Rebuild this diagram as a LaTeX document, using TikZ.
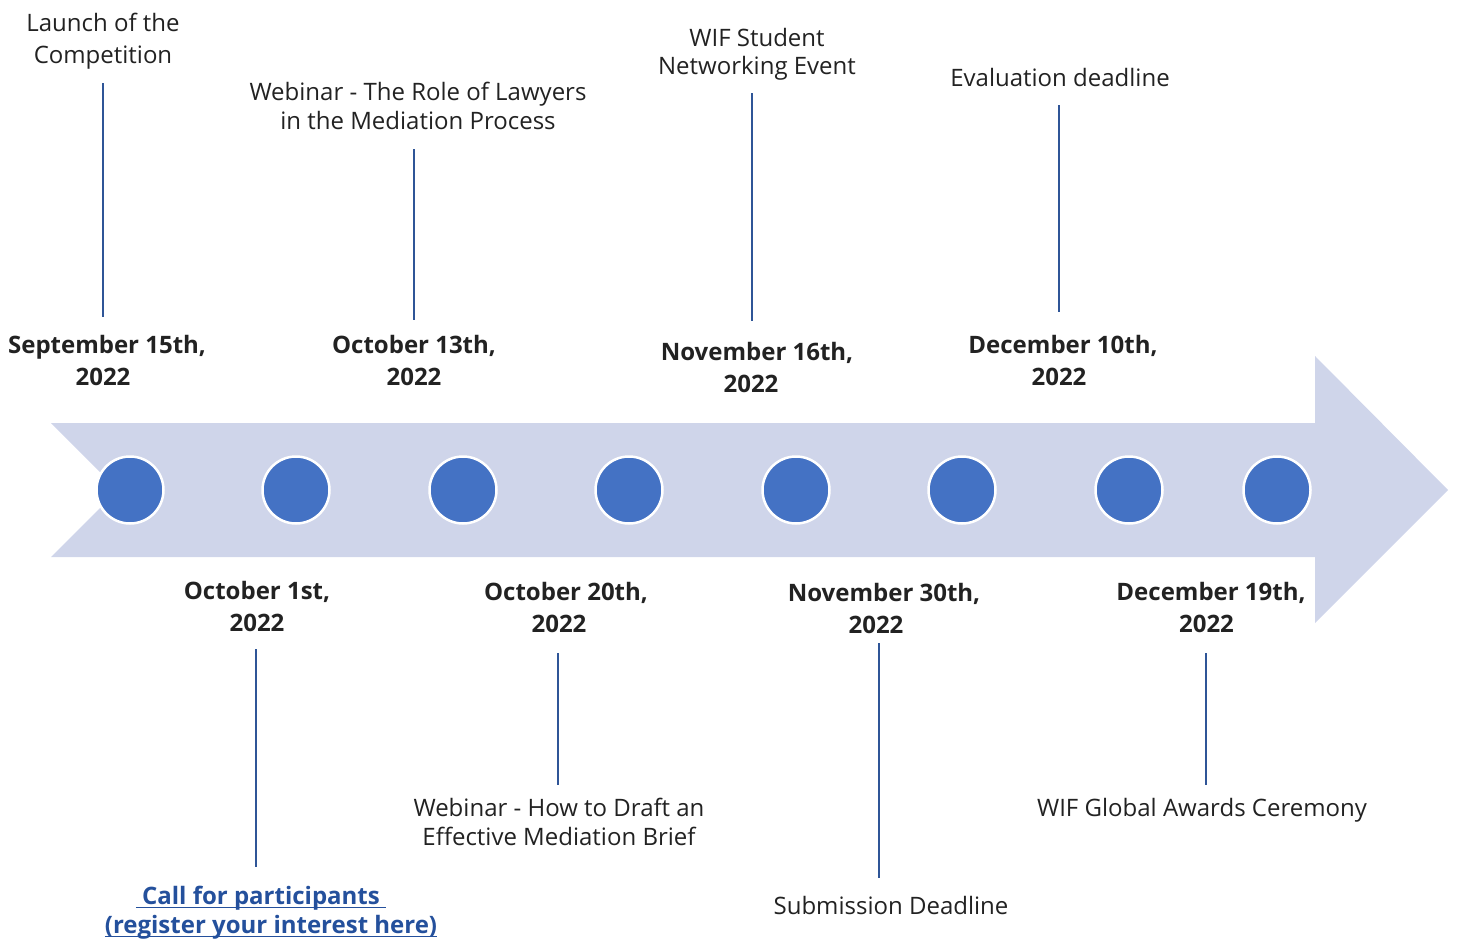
\documentclass[tikz,border=0pt]{standalone}
\usepackage{fontspec}
\setmainfont{Open Sans}
\newcommand\myul[1]{\setbox0\hbox{#1}\rlap{\rule[-3.5pt]{\wd0}{1.6pt}}\box0}
\definecolor{arrowc}{HTML}{CFD5EA}
\definecolor{dotc}{HTML}{4472C4}
\definecolor{linec}{HTML}{2F5597}
\definecolor{textc}{HTML}{222222}
\definecolor{linkc}{HTML}{24509C}
\tikzset{
  dot/.style={circle,fill=dotc,draw=white,line width=2.5pt,minimum size=67pt,inner sep=0pt},
  lbl/.style={align=center,text=textc,font=\fontsize{24}{29}\selectfont,inner sep=0pt},
  biglbl/.style={align=center,text=textc,font=\fontsize{24}{32}\selectfont,inner sep=0pt},
  datelbl/.style={align=center,text=textc,font=\fontsize{24}{32}\selectfont\bfseries,inner sep=0pt},
  stem/.style={draw=linec,line width=2.5pt},
}
\begin{document}
\begin{tikzpicture}[x=1pt,y=-1pt]
\useasboundingbox (0,0) rectangle (1457,938);
% arrow
\fill[arrowc] (51,423) -- (1315,423) -- (1315,356) -- (1448,490) -- (1315,623) -- (1315,557) -- (51,557) -- (118,490) -- cycle;
% dots
\foreach \n/\x in {1/130,2/296,3/463,4/629,5/796,6/962,7/1129,8/1277}
  \node[dot] (d\n) at (\x,490) {};
% top labels
\node[biglbl] (l1) at (103,41) {Launch of the\\Competition};
\node[lbl,font=\fontsize{24}{28}\selectfont] (l5) at (757,54.5) {WIF Student\\Networking Event};
\node[lbl] (l3) at (418,106) {Webinar - The Role of Lawyers\\in the Mediation Process};
\node[lbl] (l7) at (1060,77.5) {Evaluation deadline};
% top dates
\node[datelbl] (t1) at (107,360) {September 15th,\\2022\hspace*{8pt}};
\node[datelbl] (t3) at (414,360) {October 13th,\\2022};
\node[datelbl] (t5) at (757,367) {November 16th,\\2022\hspace*{12pt}};
\node[datelbl] (t7) at (1063,360) {December 10th,\\2022\hspace*{8pt}};
% bottom dates
\node[datelbl] (b2) at (257,606) {October 1st,\\2022};
\node[datelbl] (b4) at (566,607) {October 20th,\\2022\hspace*{14pt}};
\node[datelbl] (b6) at (884,608) {November 30th,\\2022\hspace*{16pt}};
\node[datelbl] (b8) at (1211,607) {December 19th,\\2022\hspace*{9pt}};
% bottom labels
\node[align=center,text=linkc,font=\fontsize{24}{29}\selectfont\bfseries,inner sep=0pt] (l2) at (271,913)
  {\myul{\ Call for participants\ }\hspace*{20pt}\\\myul{(register your interest here)}};
\node[lbl] (l4) at (559,822) {Webinar - How to Draft an\\Effective Mediation Brief};
\node[lbl] (l6) at (891,905) {Submission Deadline};
\node[lbl] (l8) at (1202,810) {WIF Global Awards Ceremony};
% stems
\coordinate (s1a) at (103,83);  \coordinate (s1b) at (103,317);
\coordinate (s3a) at (414,149); \coordinate (s3b) at (414,320);
\coordinate (s5a) at (752,93);  \coordinate (s5b) at (752,321);
\coordinate (s7a) at (1059,105); \coordinate (s7b) at (1059,312);
\coordinate (s2a) at (256,649); \coordinate (s2b) at (256,867);
\coordinate (s4a) at (558,653); \coordinate (s4b) at (558,785);
\coordinate (s6a) at (879,643); \coordinate (s6b) at (879,878);
\coordinate (s8a) at (1206,653); \coordinate (s8b) at (1206,785);
\foreach \i in {1,...,8} \draw[stem] (s\i a) -- (s\i b);
\end{tikzpicture}
\end{document}
